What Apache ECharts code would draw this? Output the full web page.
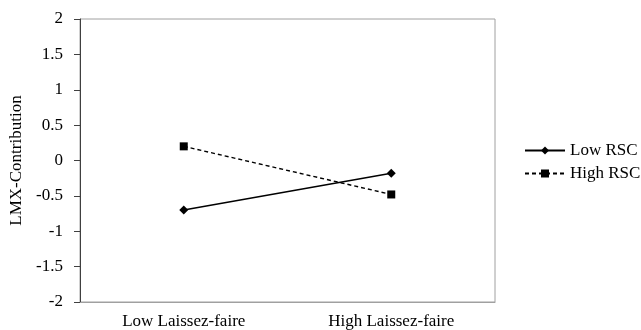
<!DOCTYPE html>
<html><head><meta charset="utf-8">
<script src="https://cdn.jsdelivr.net/npm/echarts@6/dist/echarts.min.js"></script>
<style>html,body{margin:0;padding:0;background:#fff}#c{width:641px;height:330px}</style>
</head><body><div id="c"></div>
<script>
var categories = ["Low Laissez-faire", "High Laissez-faire"];
var lowRSC = [-0.7, -0.18];
var highRSC = [0.2, -0.48];
var seriesNames = ["Low RSC", "High RSC"];
var yTicks = {min: -2, max: 2, interval: 0.5};
var yName = "LMX-Contribution";

var font = "Liberation Serif";
var fs = 17;
var chart = echarts.init(document.getElementById('c'));
chart.setOption({
  animation: false,
  backgroundColor: '#fff',
  grid: {left: 80, right: 146, top: 19, bottom: 28, show: true, borderColor: '#a0a0a0', borderWidth: 1},
  legend: {
    orient: 'vertical', left: 524, top: 142, itemWidth: 40, itemHeight: 10, itemGap: 6, padding: 0,
    textStyle: {fontFamily: font, fontSize: fs, color: '#000'},
    data: seriesNames
  },
  xAxis: {
    type: 'category', data: categories, boundaryGap: true,
    axisLine: {onZero: false, lineStyle: {color: '#a0a0a0'}},
    axisTick: {show: false},
    axisLabel: {fontFamily: font, fontSize: fs, color: '#000', margin: 11}
  },
  yAxis: {
    type: 'value', min: yTicks.min, max: yTicks.max, interval: yTicks.interval,
    name: yName, nameLocation: 'middle', nameGap: 50, nameRotate: 90,
    nameTextStyle: {fontFamily: font, fontSize: fs, color: '#000'},
    axisLine: {show: true, lineStyle: {color: '#404040'}},
    axisTick: {show: true, length: 6, lineStyle: {color: '#404040'}},
    splitLine: {show: false},
    axisLabel: {fontFamily: font, fontSize: fs, color: '#000', margin: 17}
  },
  series: [
    {name: seriesNames[0], type: 'line', data: lowRSC, symbol: 'diamond', symbolSize: 9,
     itemStyle: {color: '#000'}, lineStyle: {color: '#000', width: 1.4, type: 'solid'}},
    {name: seriesNames[1], type: 'line', data: highRSC, symbol: 'rect', symbolSize: 8,
     itemStyle: {color: '#000'}, lineStyle: {color: '#000', width: 1.4, type: [4, 3]}}
  ]
});
</script></body></html>
